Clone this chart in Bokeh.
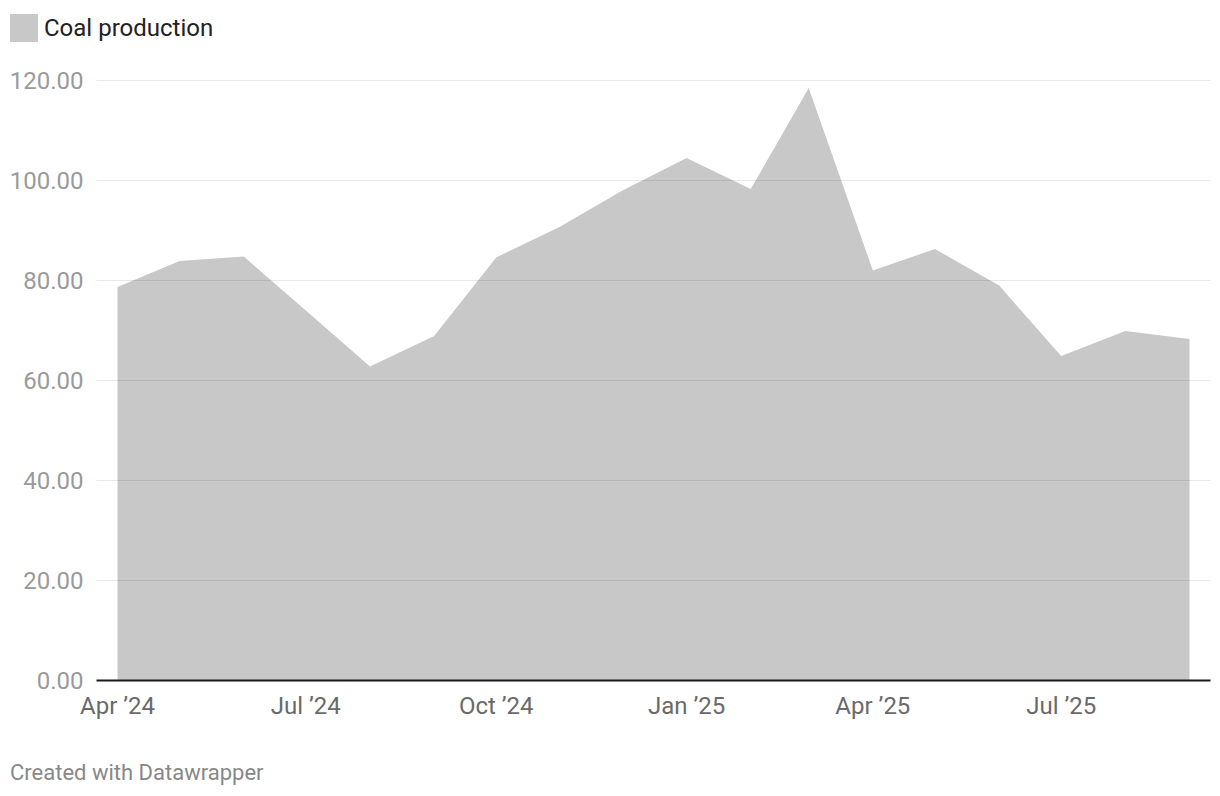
from datetime import datetime, timedelta
from bokeh.plotting import figure
from bokeh.layouts import column
from bokeh.models import (ColumnDataSource, FixedTicker, DatetimeTickFormatter,
                          NumeralTickFormatter, Range1d, Div)
from bokeh.embed import file_html
from bokeh.resources import INLINE

# ---- data ----
months = ["2024-04", "2024-05", "2024-06", "2024-07", "2024-08", "2024-09",
          "2024-10", "2024-11", "2024-12", "2025-01", "2025-02", "2025-03",
          "2025-04", "2025-05", "2025-06", "2025-07", "2025-08", "2025-09"]
coal_production = [78.7, 83.9, 84.8, 74.0, 62.8, 68.9, 84.6, 90.8, 98.0,
                   104.5, 98.3, 118.5, 82.0, 86.3, 79.0, 64.9, 69.9, 68.3]
x_tick_months = ["2024-04", "2024-07", "2024-10", "2025-01", "2025-04", "2025-07"]
y_ticks = [0, 20, 40, 60, 80, 100, 120]
series_name = "Coal production"
footnote = "Created with Datawrapper"

dates = [datetime.strptime(m, "%Y-%m") for m in months]
tick_dates = [datetime.strptime(m, "%Y-%m") for m in x_tick_months]

def ms(d):
    return (d - datetime(1970, 1, 1)).total_seconds() * 1000.0

src = ColumnDataSource(dict(x=dates, y=coal_production, y0=[0] * len(dates)))

FONT = "Roboto"
AREA_COLOR = "#c8c8c8"

# ---- legend (HTML key at the far left, above the chart) ----
legend_div = Div(
    text=('<div style="display:flex;align-items:center;">'
          f'<span style="display:inline-block;width:28px;height:28px;'
          f'background:{AREA_COLOR};margin-right:6px;"></span>'
          f'<span>{series_name}</span></div>'),
    width=1212, height=56, margin=(0, 0, 0, 0),
    styles={"font-family": FONT, "font-size": "24px", "color": "#222222",
            "padding-top": "14px", "padding-left": "10px", "line-height": "28px",
            "box-sizing": "border-box"})

# ---- main chart ----
p = figure(width=1212, height=674, x_axis_type="datetime",
           output_backend="svg", toolbar_location=None,
           min_border_left=96, min_border_right=2, min_border_top=14,
           min_border_bottom=50, margin=(0, 0, 0, 0))
p.x_range = Range1d(dates[0] - timedelta(days=10.15), dates[-1] + timedelta(days=10.15))
p.y_range = Range1d(0, 122)
p.outline_line_color = None
p.background_fill_color = "white"
p.border_fill_color = "white"

area = p.varea(x="x", y1="y0", y2="y", source=src, fill_color=AREA_COLOR)

p.yaxis.ticker = FixedTicker(ticks=y_ticks)
p.yaxis.formatter = NumeralTickFormatter(format="0.00")
p.yaxis.axis_line_color = None
p.yaxis.major_tick_line_color = None
p.yaxis.minor_tick_line_color = None
p.yaxis.major_label_standoff = 7
p.yaxis.major_label_text_font = FONT
p.yaxis.major_label_text_font_size = "24px"
p.yaxis.major_label_text_color = "#9a9a9a"

p.xaxis.ticker = FixedTicker(ticks=[ms(d) for d in tick_dates])
p.xaxis.formatter = DatetimeTickFormatter(months="%b \u2019%y", days="%b \u2019%y",
                                          years="%b \u2019%y")
p.xaxis.axis_line_color = "#1a1a1a"
p.xaxis.axis_line_width = 2
p.xaxis.major_tick_line_color = None
p.xaxis.minor_tick_line_color = None
p.xaxis.major_label_standoff = 5
p.xaxis.major_label_text_font = FONT
p.xaxis.major_label_text_font_size = "24px"
p.xaxis.major_label_text_color = "#6a6a6a"

p.xgrid.grid_line_color = None
p.ygrid.ticker = FixedTicker(ticks=y_ticks[1:])
p.ygrid.grid_line_color = "black"
p.ygrid.grid_line_alpha = 0.09
p.ygrid.grid_line_width = 1
p.ygrid.level = "overlay"

# ---- footnote ----
note_div = Div(text=footnote, width=1212, height=60, margin=(0, 0, 0, 0),
               styles={"font-family": FONT, "font-size": "22px", "color": "#888888",
                       "padding-top": "30px", "padding-left": "10px",
                       "line-height": "26px", "box-sizing": "border-box"})

layout = column(legend_div, p, note_div, spacing=0)
open("out.html", "w").write(file_html(layout, INLINE))
